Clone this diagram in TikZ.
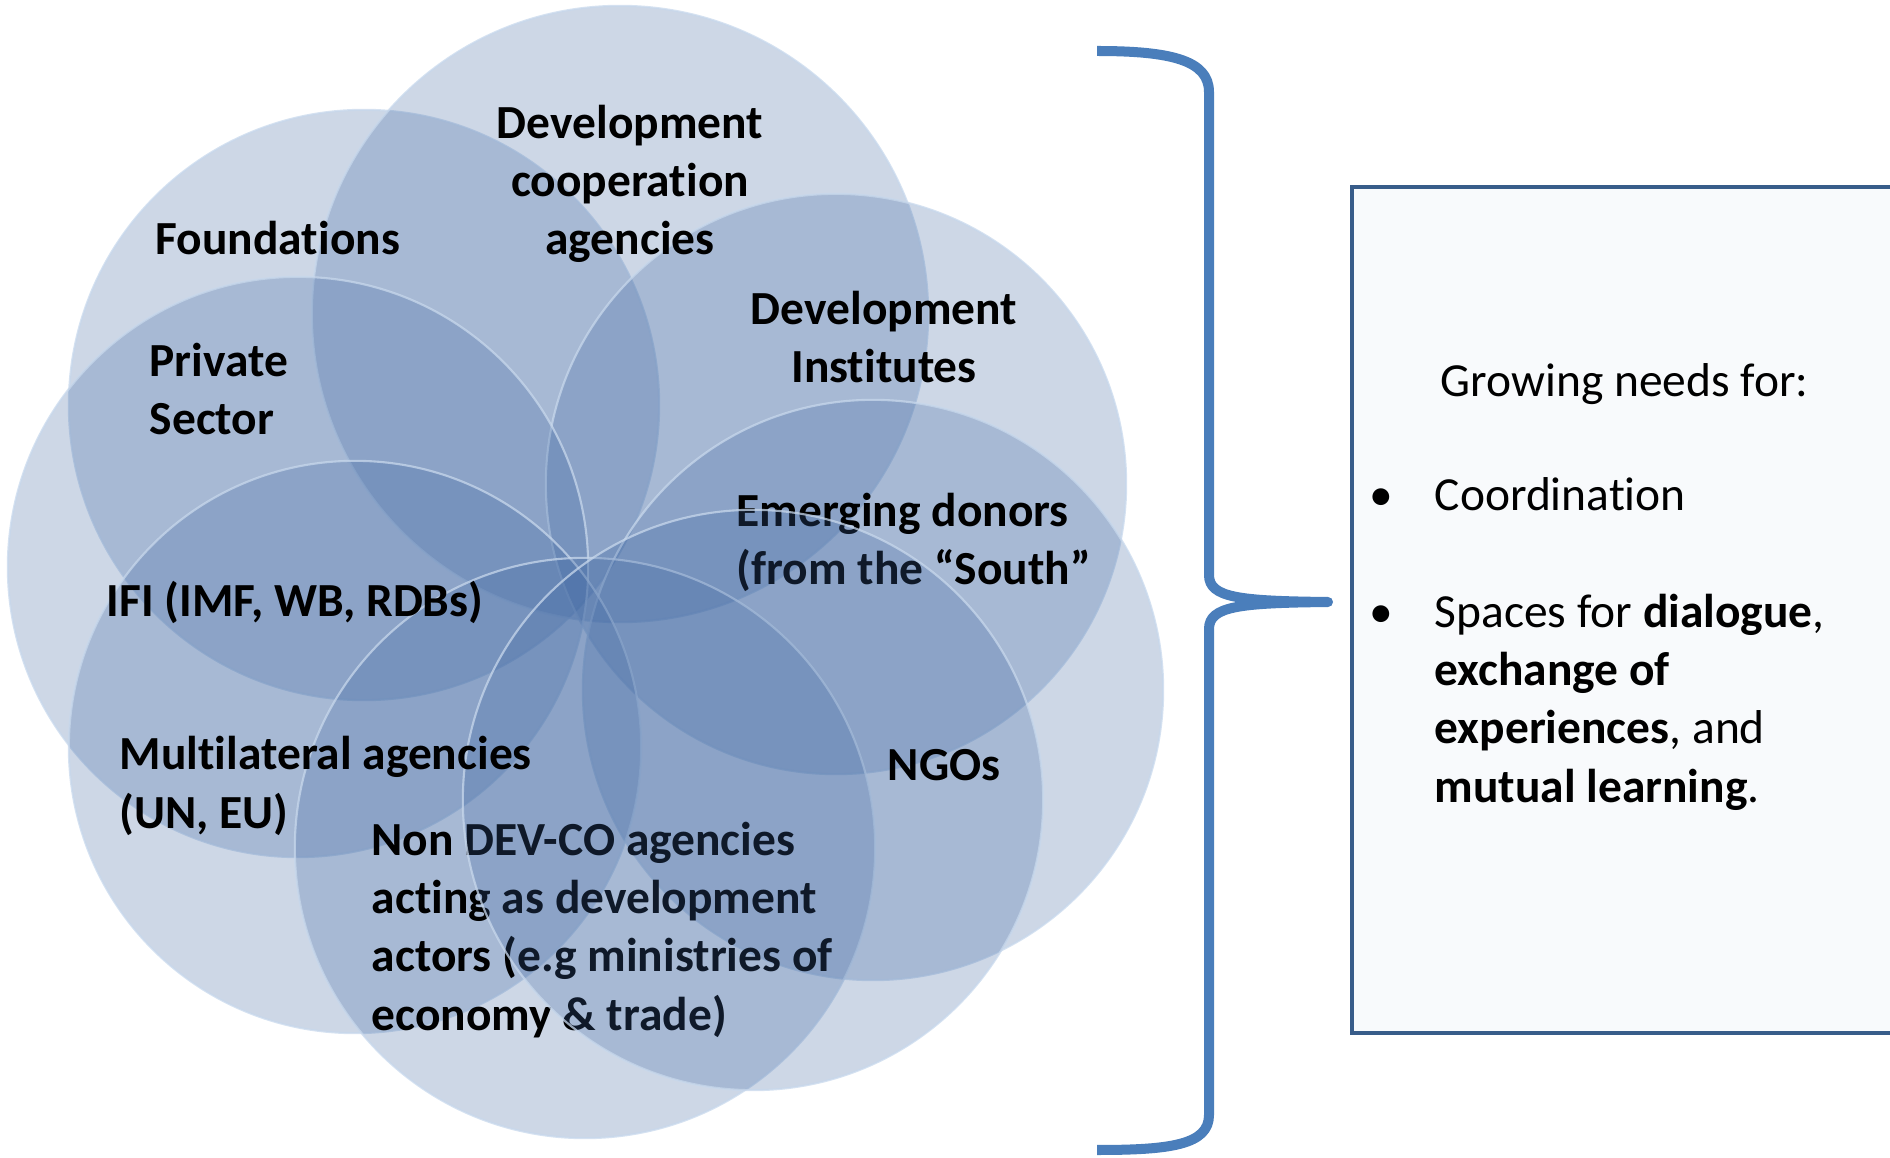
\documentclass[tikz,border=0pt]{standalone}
\usepackage{fontspec}
\setmainfont{Carlito}[Ligatures=NoCommon]
\usetikzlibrary{positioning}
\definecolor{petalblue}{RGB}{60,100,160}
\definecolor{petalrim}{RGB}{200,216,236}
\definecolor{braceblue}{RGB}{74,126,187}
\definecolor{boxline}{RGB}{56,93,138}
\definecolor{boxfill}{RGB}{248,250,252}

\begin{document}
\begin{tikzpicture}[x=0.01cm, y=-0.01cm]
	\useasboundingbox (0,0) rectangle (1890,1158);
	\tikzstyle{petal} = [fill=petalblue, fill opacity=0.26, draw=petalrim, draw opacity=0.75, line width=0.6pt]
	\tikzstyle{lbl} = [inner sep=0pt, font=\bfseries\fontsize{13.5}{16.5}\selectfont]
	\tikzstyle{boxtext} = [inner sep=0pt, font=\fontsize{13.5}{16.5}\selectfont]
	% centres of the actor circles
	\coordinate (DC) at (620,314);
	\coordinate (FD) at (364,405);
	\coordinate (PS) at (298,567);
	\coordinate (ML) at (355,747);
	\coordinate (ND) at (585,848);
	\coordinate (NG) at (753,800);
	\coordinate (EM) at (873,690);
	\coordinate (DI) at (836,484);
	\draw[petal] (FD) circle (2.95cm);
	\draw[petal] (DC) circle (3.08cm);
	\draw[petal] (DI) circle (2.9cm);
	\draw[petal] (PS) circle (2.9cm);
	\draw[petal] (EM) circle (2.9cm);
	\draw[petal] (ML) circle (2.86cm);
	\draw[petal] (ND) circle (2.9cm);
	% these two sit under the NGO circle (base = last line)
	\node[lbl, align=left, anchor=base west] (emlbl) at (736,585) {Emerging donors\\(from the “South”};
	\node[lbl, align=left, anchor=base west] (ndlbl) at (371,1030) {Non DEV-CO agencies\\acting as development\\actors (e.g ministries of\\economy \& trade)};
	\draw[petal] (NG) circle (2.9cm);
	\node[lbl, align=center, anchor=base] (dclbl) at (630,255) {Development\\cooperation\\agencies};
	\node[lbl, anchor=base west] (fdlbl) at (155,255) {Foundations};
	\node[lbl, align=center, anchor=base] (dilbl) at (884,383) {Development\\Institutes};
	\node[lbl, align=left, anchor=base west] (pslbl) at (149,435) {Private\\Sector};
	\node[lbl, anchor=base west] (ifilbl) at (106,617) {IFI (IMF, WB, RDBs)};
	\node[lbl, align=left, anchor=base west] (mllbl) at (119,828) {Multilateral agencies\\(UN, EU)};
	\node[lbl, anchor=base] (nglbl) at (944,781) {NGOs};
	% brace
	\coordinate (tip) at (1328,602);
	\draw[braceblue, line width=0.1cm, line join=round] (1097,51) .. controls (1170,51) and (1209,60) .. (1209,92) -- (1209,575) .. controls (1209,598) and (1240,601) .. (tip) .. controls (1240,603) and (1209,606) .. (1209,629) -- (1209,1115) .. controls (1209,1145) and (1170,1150) .. (1097,1150);
	% needs box
	\draw[boxline, fill=boxfill, line width=0.04cm] (1352,187) rectangle (1910,1033);
	\node[boxtext, anchor=base west] (needs) at (1440,397) {Growing needs for:};
	\node[boxtext, anchor=base] (dot1) at (1381,511) {•};
	\node[boxtext, anchor=base west] (coord) at (1434,511) {Coordination};
	\node[boxtext, anchor=base] (dot2) at (1381,628) {•};
	\node[boxtext, align=left, anchor=base west] (spaces) at (1434,802) {Spaces for \textbf{dialogue},\\\textbf{exchange of}\\\textbf{experiences}, and\\\textbf{mutual learning}.};
\end{tikzpicture}
\end{document}
